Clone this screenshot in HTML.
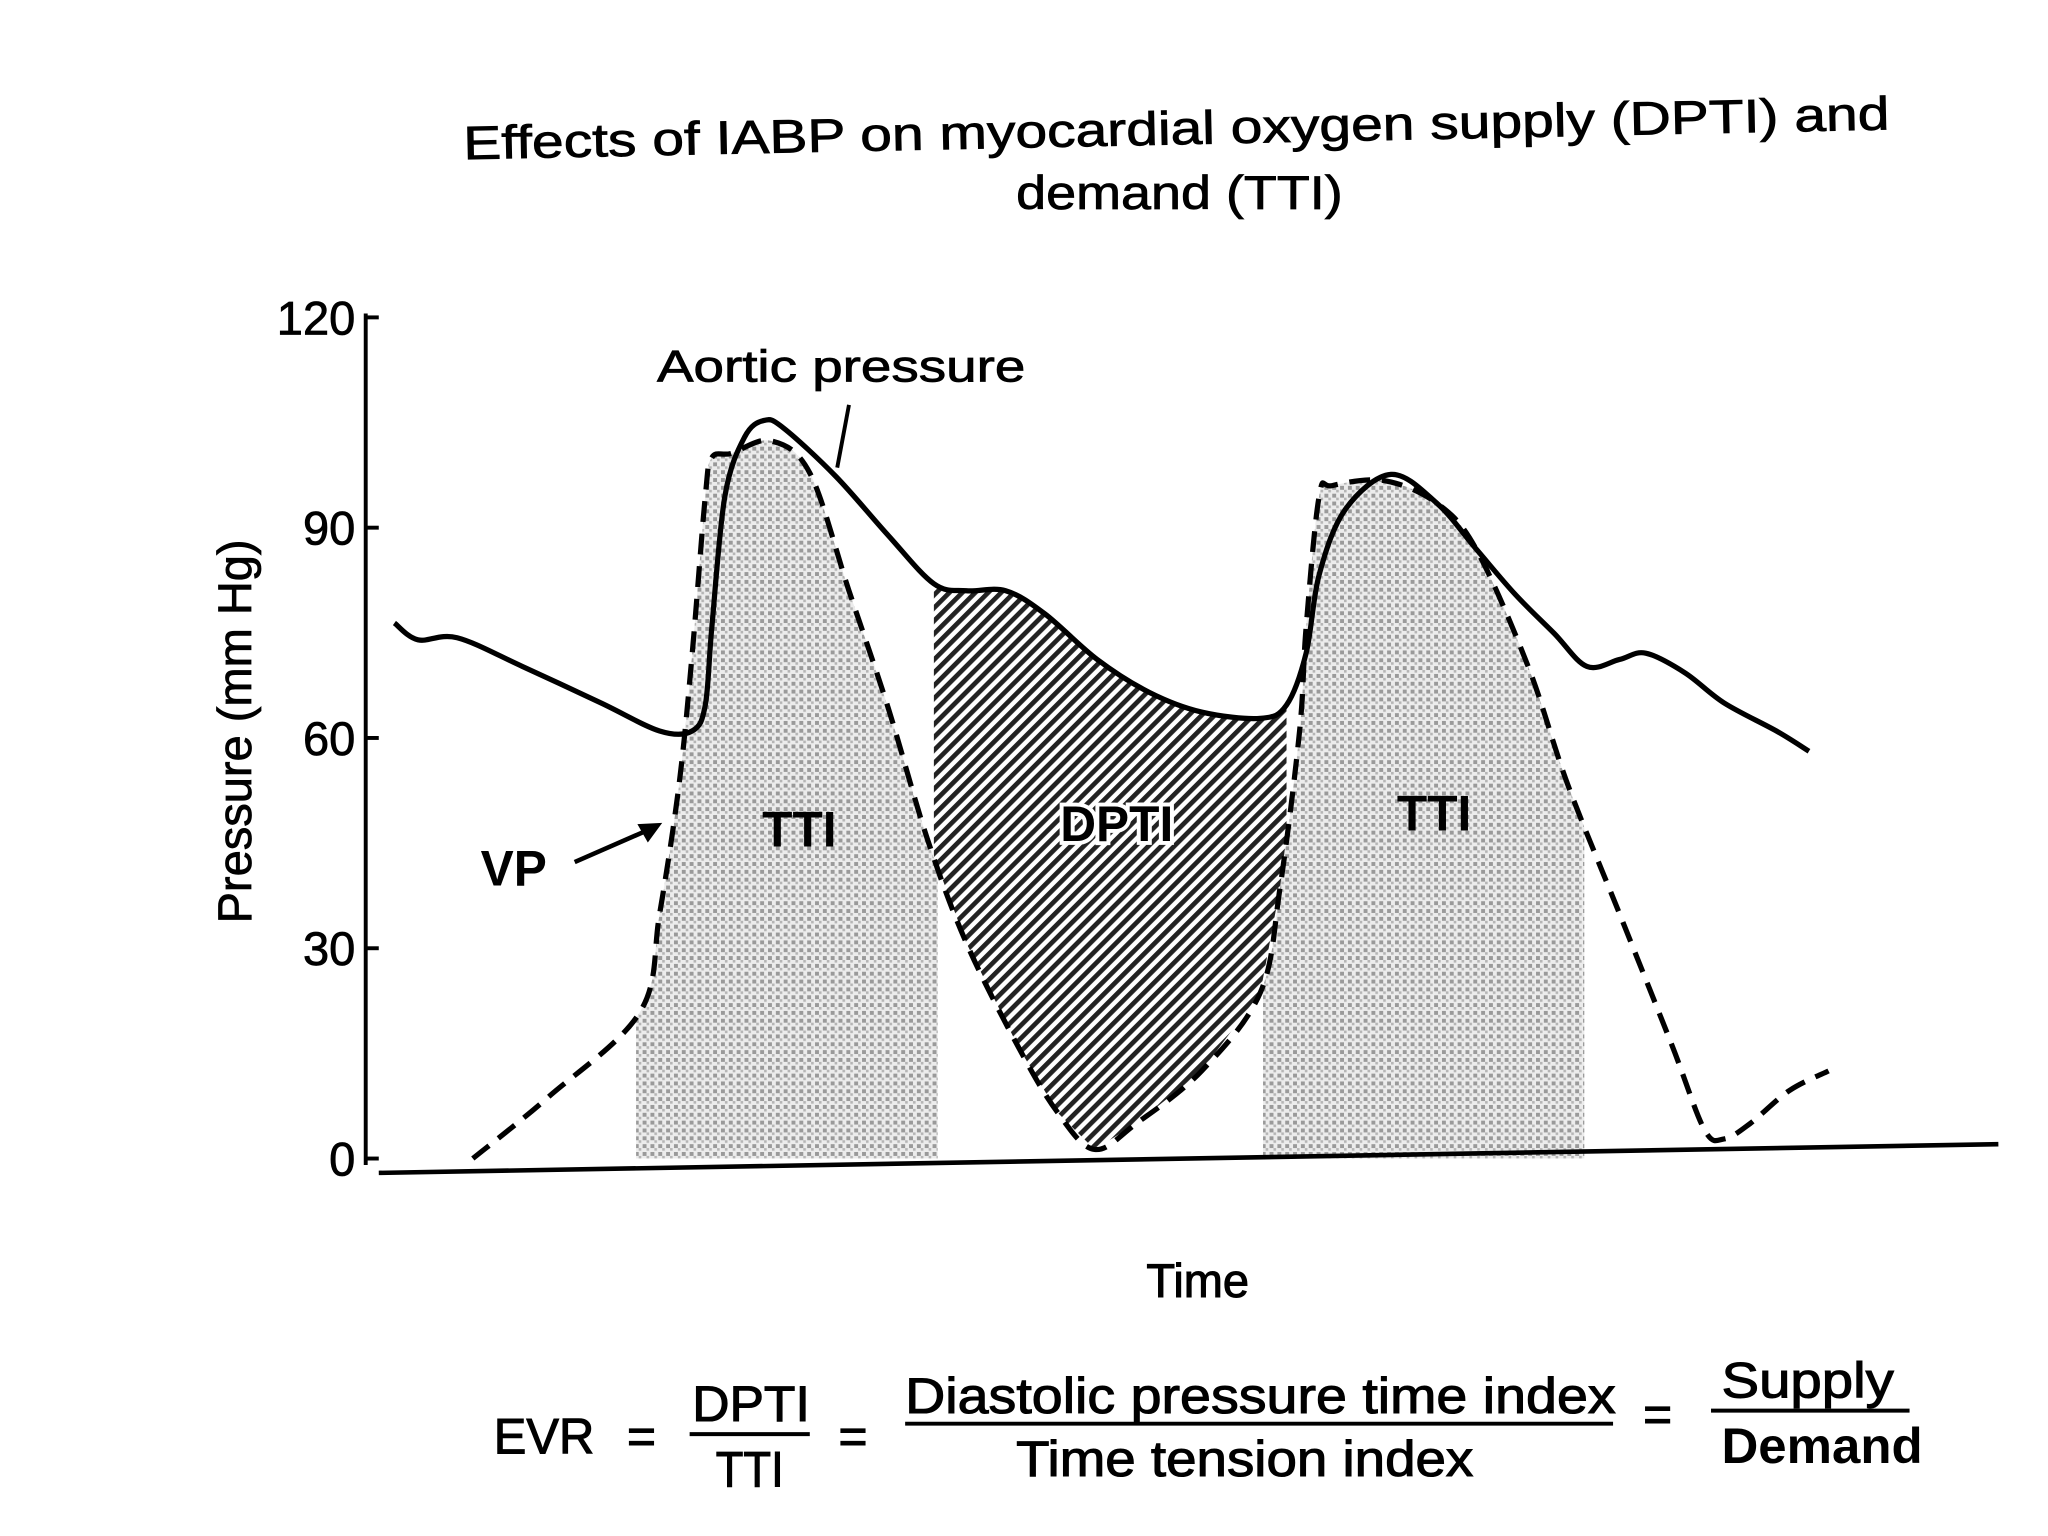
<!DOCTYPE html>
<html><head><meta charset="utf-8"><style>
html,body{margin:0;padding:0;background:#fff;}
svg{display:block;}
text{font-family:"Liberation Sans",sans-serif;fill:#000;}
</style></head><body>
<svg id="chart" width="2048" height="1536" viewBox="0 0 1568 1176" xmlns="http://www.w3.org/2000/svg">
<defs>
<pattern id="stipple" width="6" height="6" patternUnits="userSpaceOnUse">
<rect width="6" height="6" fill="#ececec"/>
<rect x="0" y="0" width="3" height="3" fill="#9a9a9a"/>
<rect x="3" y="3" width="2" height="2" fill="#b5b5b5"/>
</pattern>
<pattern id="hatch" width="7" height="7" patternUnits="userSpaceOnUse" patternTransform="rotate(45)">
<rect width="7" height="7" fill="#fff"/>
<rect x="0" y="0" width="3.6" height="7" fill="#222"/>
</pattern>
<clipPath id="clipTTI1"><rect x="487" y="0" width="231" height="890"/></clipPath>
<clipPath id="clipTTI2"><rect x="967" y="0" width="246" height="890"/></clipPath>
<clipPath id="clipDPTI"><rect x="715" y="0" width="270" height="890"/></clipPath>
</defs>
<g stroke="#000" stroke-width="0.6">
<text x="355" y="122" font-size="36" textLength="1092" lengthAdjust="spacingAndGlyphs" transform="rotate(-1.2 355 122)">Effects of IABP on myocardial oxygen supply (DPTI) and</text>
<text x="778" y="160" font-size="36" textLength="250" lengthAdjust="spacingAndGlyphs">demand (TTI)</text>
</g>
<g id="areas"></g>
<g id="axes"></g>
<g id="lines"></g>
<g>
<text x="503" y="292" font-size="34" textLength="282" lengthAdjust="spacingAndGlyphs" stroke="#000" stroke-width="0.6">Aortic pressure</text>
<line x1="650" y1="310" x2="641" y2="358" stroke="#000" stroke-width="3"/>
<text x="368" y="678" font-size="38" font-weight="bold">VP</text>
<line x1="440" y1="660" x2="495" y2="636" stroke="#000" stroke-width="3.5"/>
<polygon points="507,630 488,631 496,645" fill="#000"/>
<text x="612" y="648" font-size="38" font-weight="bold" text-anchor="middle">TTI</text>
<text x="855" y="644" font-size="38" font-weight="bold" text-anchor="middle" stroke="#fff" stroke-width="6" paint-order="stroke">DPTI</text>
<text x="1098" y="636" font-size="38" font-weight="bold" text-anchor="middle">TTI</text>
<text x="917" y="993" font-size="36" text-anchor="middle" stroke="#000" stroke-width="0.8">Time</text>
<text transform="translate(192 560) rotate(-90)" font-size="36" text-anchor="middle" stroke="#000" stroke-width="0.6">Pressure (mm Hg)</text>
</g>
<g font-size="38" stroke="#000" stroke-width="0.8">
<text x="378" y="1113" textLength="77" lengthAdjust="spacingAndGlyphs">EVR</text>
<text x="480" y="1113">=</text>
<text x="530" y="1088" textLength="90" lengthAdjust="spacingAndGlyphs">DPTI</text>
<line x1="528" y1="1098" x2="620" y2="1098" stroke="#000" stroke-width="3"/>
<text x="548" y="1138" textLength="52" lengthAdjust="spacingAndGlyphs">TTI</text>
<text x="642" y="1113">=</text>
<text x="693" y="1082" textLength="544" lengthAdjust="spacingAndGlyphs">Diastolic pressure time index</text>
<line x1="693" y1="1090" x2="1235" y2="1090" stroke="#000" stroke-width="3"/>
<text x="778" y="1130" textLength="350" lengthAdjust="spacingAndGlyphs">Time tension index</text>
<text x="1258" y="1096">=</text>
<text x="1318" y="1070" textLength="132" lengthAdjust="spacingAndGlyphs">Supply</text>
<line x1="1310" y1="1080" x2="1462" y2="1080" stroke="#000" stroke-width="3"/>
<text x="1318" y="1120" textLength="154" lengthAdjust="spacingAndGlyphs" font-weight="bold" stroke-width="0">Demand</text>
</g>
</svg>
<script>
const yTicks = [0, 30, 60, 90, 120];
const aorticTime = [12,30,60,110,170,215,240,250,255,265,280,295,310,350,390,425,450,480,510,550,590,630,675,695,710,720,740,775,810,840,870,900,925,950,970,1000,1030,1070,1095];
const aorticPressure = [76.4,74,74.3,70.2,65,61,61,64.7,75.8,94.5,102.9,105.3,104.2,97.3,88.9,82,81,81,77.7,71.2,66.5,63.7,62.8,64.7,72.1,83.3,92.6,97.6,93.5,87,80.5,74.9,70.2,71.2,72.1,69.3,65,61,58.1];
const vpTime = [72,130,200,215,230,240,250,255,270,300,330,360,390,420,450,490,520,548,580,630,675,690,705,710,720,730,770,810,840,880,910,950,990,1015,1030,1050,1080,1110];
const vpPressure = [0,8.8,20.9,34.9,53.5,72.1,94.5,100,100.6,102.4,97.8,81,64.3,45.6,30.7,15.8,6.5,1.3,5,12.5,23.7,38.6,61,75.8,94.5,96,96.7,93.5,87,70.2,53.5,34.9,16.2,4.1,2.8,5,9.7,12.5];
const NS='http://www.w3.org/2000/svg';
const X0=290, YBASE=887, PX_PER_MM=161/30;
function xs(t){return X0+t;}
function ys(p){return YBASE-p*PX_PER_MM;}
function pts(ts,ps){return ts.map((t,i)=>[xs(t),ys(ps[i])]);}
function smooth(p){let d='M'+p[0][0]+','+p[0][1];for(let i=0;i<p.length-1;i++){const a=p[i-1]||p[i],b=p[i],c=p[i+1],e=p[i+2]||c;d+=' C'+(b[0]+(c[0]-a[0])/6)+','+(b[1]+(c[1]-a[1])/6)+' '+(c[0]-(e[0]-b[0])/6)+','+(c[1]-(e[1]-b[1])/6)+' '+c[0]+','+c[1];}return d;}
function mk(tag,attrs,parent){const el=document.createElementNS(NS,tag);for(const k in attrs)el.setAttribute(k,attrs[k]);parent.appendChild(el);return el;}
const ap=pts(aorticTime,aorticPressure), vp=pts(vpTime,vpPressure);
const apD=smooth(ap), vpD=smooth(vp);
const areas=document.getElementById('areas');
const underVP=vpD+' L'+vp[vp.length-1][0]+','+YBASE+' L'+vp[0][0]+','+YBASE+' Z';
let a1=mk('path',{d:underVP,fill:'url(#stipple)','clip-path':'url(#clipTTI1)'},areas);


let a2=mk('path',{d:underVP,fill:'url(#stipple)','clip-path':'url(#clipTTI2)'},areas);


const rvp=vp.slice().reverse();
const between=apD+' L'+rvp.map(p=>p[0]+','+p[1]).join(' L')+' Z';
let a3=mk('path',{d:between,fill:'url(#hatch)','clip-path':'url(#clipDPTI)'},areas);


const axes=document.getElementById('axes');
let ya=mk('line',{x1:280,y1:240,x2:280,y2:892,stroke:'#000','stroke-width':3},axes);


let xa=mk('line',{x1:290,y1:898,x2:1530,y2:876,stroke:'#000','stroke-width':3.5},axes);


yTicks.forEach(v=>{const y=ys(v);
 let tk=mk('line',{x1:280,y1:y,x2:290,y2:y,stroke:'#000','stroke-width':3},axes);
 
 
 let tl=mk('text',{x:272,y:y+13,'font-size':36,'text-anchor':'end',stroke:'#000','stroke-width':0.6},axes);
 tl.textContent=v;
 
 
});
const lines=document.getElementById('lines');
let vl=mk('path',{d:vpD,fill:'none',stroke:'#000','stroke-width':4,'stroke-dasharray':'16 9'},lines);


let al=mk('path',{d:apD,fill:'none',stroke:'#000','stroke-width':4,'stroke-linejoin':'round'},lines);


</script>
</body></html>
